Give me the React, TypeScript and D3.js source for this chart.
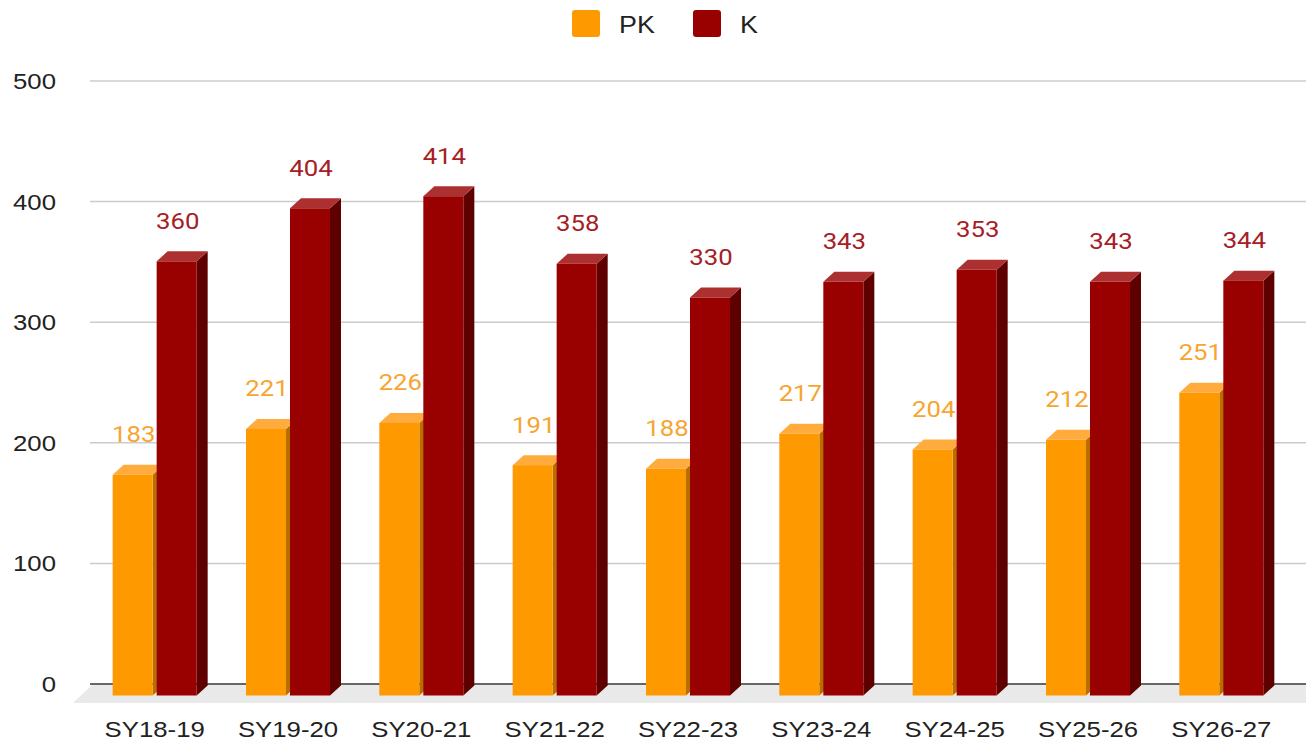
import React from 'react';
import * as d3 from 'd3';

const categories = ['SY18-19', 'SY19-20', 'SY20-21', 'SY21-22', 'SY22-23', 'SY23-24', 'SY24-25', 'SY25-26', 'SY26-27'];
const pkValues = [183, 221, 226, 191, 188, 217, 204, 212, 251];
const kValues = [360, 404, 414, 358, 330, 343, 353, 343, 344];
const yTicks = [0, 100, 200, 300, 400, 500];

const W = 1306;
const H = 743;

const SERIES = [
  { name: 'PK', values: pkValues, front: '#ff9900', top: '#ffab3d', side: '#b86f00', label: '#f7a530' },
  { name: 'K', values: kValues, front: '#990000', top: '#ad3030', side: '#5e0000', label: '#a52025' },
];

// 3d depth
const DX = 11;
const DY = 10;
const FRONT_DY = 11.5;
const BAR_W = 40;
const GAP = 4;
const STRETCH = 1.12;

export default function App() {
  const x = d3.scaleBand<string>().domain(categories).range([88, 1288]);
  const y = d3.scaleLinear().domain([0, 500]).range([684, 81]);
  const y0 = y(0);

  const bars: React.ReactNode[] = [];
  categories.forEach((c, i) => {
    const cx = (x(c) as number) + x.bandwidth() / 2;
    const groupLeft = cx - (BAR_W * 2 + GAP) / 2;
    SERIES.forEach((s, si) => {
      const v = s.values[i];
      const xF = groupLeft + si * (BAR_W + GAP);
      const yT = y(v) + FRONT_DY;
      const yB = y0 + FRONT_DY;
      const top = `${xF},${yT} ${xF + DX},${yT - DY} ${xF + BAR_W + DX},${yT - DY} ${xF + BAR_W},${yT}`;
      const side = `${xF + BAR_W},${yT} ${xF + BAR_W + DX},${yT - DY} ${xF + BAR_W + DX},${yB - DY} ${xF + BAR_W},${yB}`;
      bars.push(
        <g key={`${s.name}-${c}`}>
          <text
            transform={`translate(${xF + BAR_W / 2 + 1},${y(v) - 21}) scale(${STRETCH},1)`}
            textAnchor="middle"
            fontFamily="Roboto, sans-serif"
            fontSize={23}
            fill={s.label}
          >
            {v}
          </text>
          <polygon points={side} fill={s.side} />
          <polygon points={top} fill={s.top} />
          <rect x={xF} y={yT} width={BAR_W} height={yB - yT} fill={s.front} />
        </g>
      );
    });
  });

  return (
    <svg width={W} height={H} style={{ position: 'absolute', left: 0, top: 0, background: '#fff' }}>
      {/* legend */}
      <g fontFamily="'Liberation Sans', Arial, sans-serif" fontSize={24} fill="#222">
        <rect x={572} y={10} width={28} height={27} rx={3} fill="#ff9900" />
        <text transform={`translate(619,33) scale(${STRETCH},1)`}>PK</text>
        <rect x={693} y={10} width={28} height={27} rx={3} fill="#990000" />
        <text transform={`translate(740,33) scale(${STRETCH},1)`}>K</text>
      </g>

      {/* gridlines + y labels */}
      {yTicks.map(t => (
        <g key={t}>
          {t > 0 && <line x1={90} x2={W} y1={y(t)} y2={y(t)} stroke="#cccccc" strokeWidth={1.5} />}
          <text
            transform={`translate(56,${y(t) + 8}) scale(${STRETCH},1)`}
            textAnchor="end"
            fontFamily="'Liberation Sans', Arial, sans-serif"
            fontSize={23}
            fill="#222"
          >
            {t}
          </text>
        </g>
      ))}

      {/* floor */}
      <polygon points={`92,${y0 + 1} ${W},${y0 + 1} ${W},${y0 + 19} 73,${y0 + 19}`} fill="#e9e9e9" />
      <line x1={90} x2={W} y1={y0} y2={y0} stroke="#333" strokeWidth={1.5} />

      {bars}

      {/* category labels */}
      {categories.map(c => (
        <text
          key={c}
          transform={`translate(${(x(c) as number) + x.bandwidth() / 2},737) scale(${STRETCH},1)`}
          textAnchor="middle"
          fontFamily="'Liberation Sans', Arial, sans-serif"
          fontSize={23}
          fill="#222"
        >
          {c}
        </text>
      ))}
    </svg>
  );
}
